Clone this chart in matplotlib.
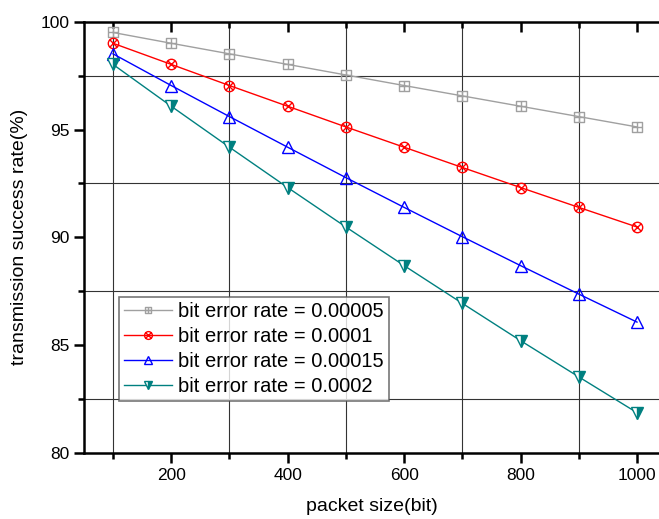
import matplotlib
matplotlib.use("Agg")
import matplotlib.pyplot as plt
import numpy as np
from matplotlib.path import Path

packet_size = [100, 200, 300, 400, 500, 600, 700, 800, 900, 1000]
ber_00005 = [99.50, 99.00, 98.51, 98.02, 97.53, 97.04, 96.56, 96.08, 95.60, 95.12]
ber_0001 = [99.00, 98.02, 97.04, 96.08, 95.12, 94.18, 93.24, 92.31, 91.39, 90.48]
ber_00015 = [98.51, 97.04, 95.60, 94.18, 92.77, 91.39, 90.03, 88.69, 87.37, 86.07]
ber_0002 = [98.02, 96.08, 94.18, 92.31, 90.48, 88.69, 86.94, 85.21, 83.53, 81.87]
labels = ["bit error rate = 0.00005", "bit error rate = 0.0001",
          "bit error rate = 0.00015", "bit error rate = 0.0002"]

plt.rcParams['font.family'] = ['Liberation Sans', 'DejaVu Sans']

# custom markers
sq = Path([(-1, -1), (1, -1), (1, 1), (-1, 1), (-1, -1), (-1, 0), (1, 0), (0, -1), (0, 1)],
          [Path.MOVETO, Path.LINETO, Path.LINETO, Path.LINETO, Path.CLOSEPOLY,
           Path.MOVETO, Path.LINETO, Path.MOVETO, Path.LINETO])
circ = Path.unit_circle()
d = 0.7071
xp = Path([(-d, -d), (d, d), (-d, d), (d, -d)],
          [Path.MOVETO, Path.LINETO, Path.MOVETO, Path.LINETO])
circx = Path.make_compound_path(circ, xp)

fig = plt.figure(figsize=(6.59, 5.19), dpi=100)
ax = fig.add_axes([84/659, 66/519, 575/659, 431.3/519])

ax.plot(packet_size, ber_00005, color='#A0A0A0', lw=1, marker=sq, ms=6.5,
        mfc='none', mec='#A0A0A0', mew=1, label=labels[0])
ax.plot(packet_size, ber_0001, color='#FF0000', lw=1, marker=circx, ms=7.5,
        mfc='none', mec='#FF0000', mew=1, label=labels[1])
ax.plot(packet_size, ber_00015, color='#0000FF', lw=1, marker='^', ms=8.5,
        mfc='none', mec='#0000FF', mew=1, label=labels[2])
ax.plot(packet_size, ber_0002, color='#008080', lw=1, marker='v', ms=8.5,
        mfc='#008080', mfcalt='white', fillstyle='right', mec='#008080', mew=1,
        label=labels[3])

ax.set_xlim(50.2, 1037.8)
ax.set_ylim(80, 100)
ax.set_xticks([200, 400, 600, 800, 1000])
ax.set_xticks([100, 300, 500, 700, 900], minor=True)
ax.set_yticks([80, 85, 90, 95, 100])
ax.set_yticks([82.5, 87.5, 92.5, 97.5], minor=True)

ax.grid(True, which='minor', color='#333333', lw=0.8)
ax.grid(False, which='major')

ax.tick_params(which='both', direction='out', width=1.8, labelsize=12.5, top=True,
               colors='black')
ax.tick_params(which='major', length=7)
ax.tick_params(which='minor', length=4)
for t in ax.xaxis.get_ticklines(minor=False)[1::2] + ax.xaxis.get_ticklines(minor=True)[1::2]:
    t.set_marker(matplotlib.lines.TICKDOWN)

ax.spines['right'].set_visible(False)
for s in ['left', 'bottom', 'top']:
    ax.spines[s].set_linewidth(1.8)

ax.set_xlabel('packet size(bit)', fontsize=14, labelpad=11)
ax.set_ylabel('transmission success rate(%)', fontsize=14, labelpad=9)

leg = ax.legend(loc='upper left', bbox_to_anchor=((119-84)/575, (453-297)/431.3),
                fontsize=14.5, frameon=True, fancybox=False, handlelength=2.4,
                borderpad=0.25, labelspacing=0.3, handletextpad=0.3, borderaxespad=0,
                markerscale=0.75)
leg.get_frame().set_edgecolor('#555555')
leg.get_frame().set_linewidth(1.2)

fig.savefig('out.png', dpi=100)
